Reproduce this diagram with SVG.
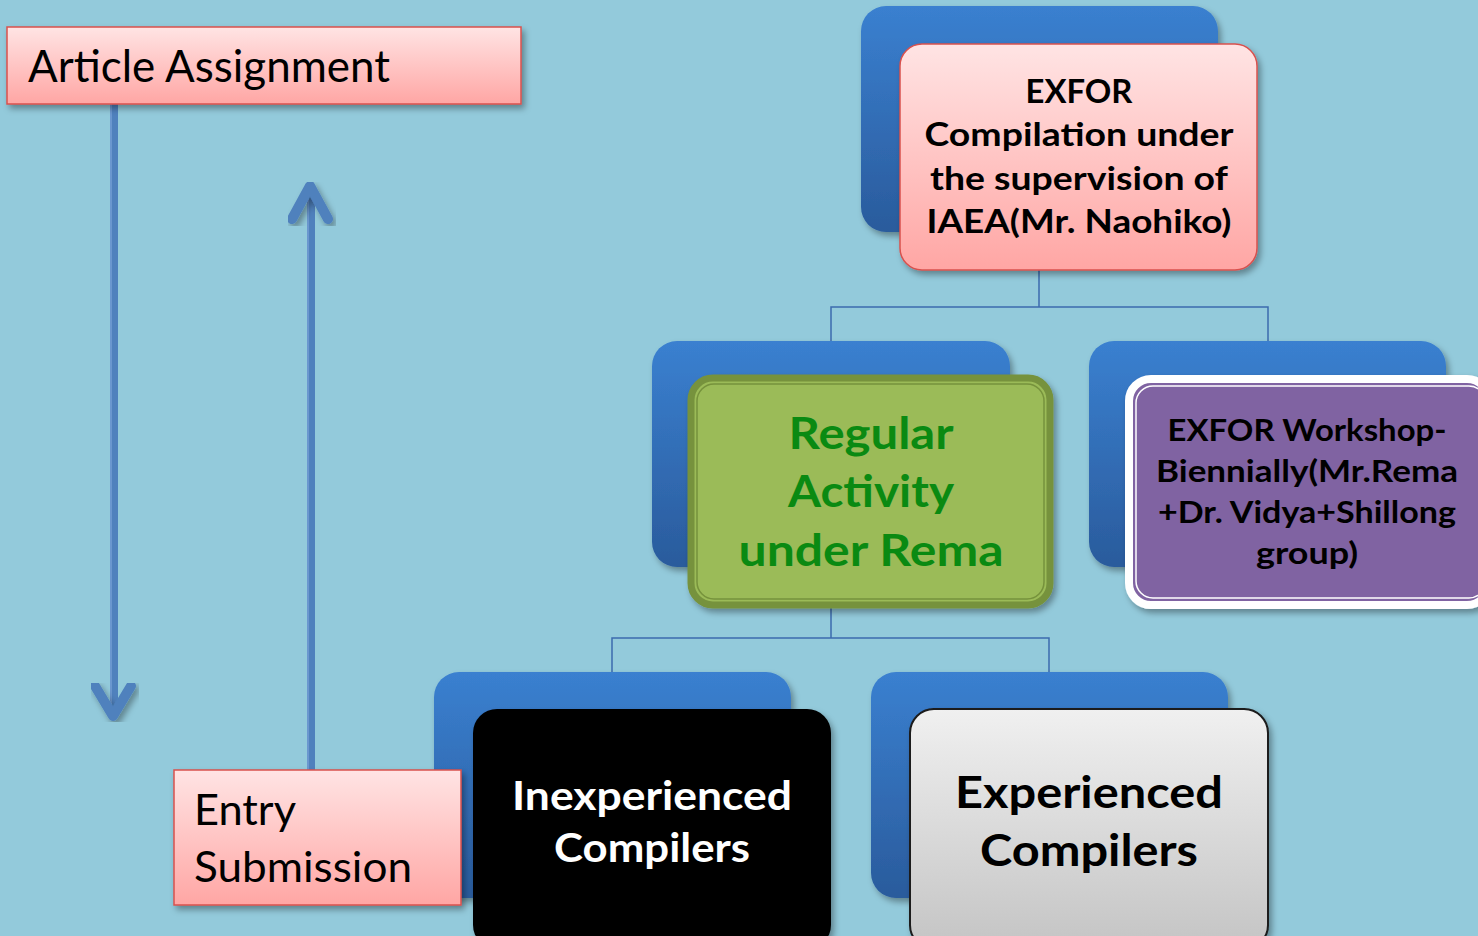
<svg xmlns="http://www.w3.org/2000/svg" width="1478" height="936" viewBox="0 0 1478 936">
<defs>
<linearGradient id="gBlue" x1="0" y1="0" x2="0" y2="1"><stop offset="0" stop-color="#3A80D0"/><stop offset="1" stop-color="#2A5B9C"/></linearGradient>
<linearGradient id="gPink" x1="0" y1="0" x2="0" y2="1"><stop offset="0" stop-color="#FFE4E4"/><stop offset="1" stop-color="#FFA6A4"/></linearGradient>
<linearGradient id="gGray" x1="0" y1="0" x2="0" y2="1"><stop offset="0" stop-color="#F0F0F0"/><stop offset="1" stop-color="#C4C4C4"/></linearGradient>
<filter id="sh" x="-10%" y="-10%" width="130%" height="130%"><feDropShadow dx="3" dy="4" stdDeviation="3" flood-color="#000" flood-opacity="0.35"/></filter>
<style>
.back{fill:url(#gBlue);filter:url(#sh)}
.pink{fill:url(#gPink);stroke:#D9514E;stroke-width:1.5;filter:url(#sh)}
.t{font-family:Lato,"Open Sans","Liberation Sans",sans-serif}
.b{font-weight:bold;text-anchor:middle}
.conn{fill:none;stroke:#3C6BAE;stroke-width:1.5}
.shaft{stroke:#4F81BD;stroke-width:8;fill:none}
.shaftHi{stroke:#7EA7DA;stroke-width:1.2;fill:none}
.head{stroke:#4F81BD;stroke-width:10;fill:none;stroke-linecap:round;stroke-linejoin:round;filter:url(#sh)}
</style>
</defs>
<rect width="1478" height="936" fill="#93CADB"/>

<g id="connectors">
<path class="conn" d="M1039 270 V307 M831 341 V307 H1268 V341"/>
<path class="conn" d="M831 608 V638 M612 672 V638 H1049 V672"/>
</g>

<g id="arrow-down">
<line class="shaft" x1="114" y1="104" x2="114" y2="712"/>
<line class="shaftHi" x1="111" y1="104" x2="111" y2="712"/>
<polyline class="head" points="95,686 113,716 131,686"/>
</g>
<g id="arrow-up">
<line class="shaft" x1="311" y1="770" x2="311" y2="190"/>
<line class="shaftHi" x1="308" y1="770" x2="308" y2="190"/>
<polyline class="head" points="292,219 310,186 328,219"/>
</g>

<g id="article-assignment">
<rect class="pink" x="7" y="27" width="514" height="77"/>
<text class="t" x="28" y="82" font-size="44" textLength="362" lengthAdjust="spacingAndGlyphs">Article Assignment</text>
</g>

<g id="exfor-compilation">
<rect class="back" x="861" y="6" width="357" height="226" rx="25"/>
<rect x="900" y="44" width="357" height="226" rx="22" fill="url(#gPink)" stroke="#D9514E" stroke-width="1.5" filter="url(#sh)"/>
<g class="t b" font-size="33" fill="#000">
<text x="1079" y="103" textLength="107" lengthAdjust="spacingAndGlyphs">EXFOR</text>
<text x="1079" y="146" textLength="309" lengthAdjust="spacingAndGlyphs">Compilation under</text>
<text x="1079" y="190" textLength="298" lengthAdjust="spacingAndGlyphs">the supervision of</text>
<text x="1079" y="233" textLength="305" lengthAdjust="spacingAndGlyphs">IAEA(Mr. Naohiko)</text>
</g>
</g>

<g id="regular-activity">
<rect class="back" x="652" y="341" width="358" height="226" rx="25"/>
<rect x="691" y="378" width="359" height="227" rx="22" fill="#9BBB59" stroke="#76923C" stroke-width="7" filter="url(#sh)"/>
<rect x="697" y="384" width="347" height="215" rx="17" fill="none" stroke="#76923C" stroke-width="1.5"/>
<g class="t b" font-size="44" fill="#0A8A12">
<text x="871" y="449" textLength="165" lengthAdjust="spacingAndGlyphs">Regular</text>
<text x="871" y="507" textLength="166" lengthAdjust="spacingAndGlyphs">Activity</text>
<text x="871" y="566" textLength="265" lengthAdjust="spacingAndGlyphs">under Rema</text>
</g>
</g>

<g id="exfor-workshop">
<rect class="back" x="1089" y="341" width="357" height="226" rx="25"/>
<rect x="1129" y="379" width="360" height="226" rx="22" fill="#8064A2" stroke="#FFFFFF" stroke-width="8" filter="url(#sh)"/>
<rect x="1136" y="386" width="350" height="212" rx="17" fill="none" stroke="#FFFFFF" stroke-width="1.5"/>
<g class="t b" font-size="31" fill="#000">
<text x="1307" y="441" textLength="279" lengthAdjust="spacingAndGlyphs">EXFOR Workshop-</text>
<text x="1307" y="482" textLength="302" lengthAdjust="spacingAndGlyphs">Biennially(Mr.Rema</text>
<text x="1307" y="523" textLength="298" lengthAdjust="spacingAndGlyphs">+Dr. Vidya+Shillong</text>
<text x="1307" y="564" textLength="102" lengthAdjust="spacingAndGlyphs">group)</text>
</g>
</g>

<g id="inexperienced">
<rect class="back" x="434" y="672" width="357" height="226" rx="25"/>
<rect x="473" y="709" width="358" height="240" rx="24" fill="#000" filter="url(#sh)"/>
<g class="t b" font-size="40" fill="#FFFFFF">
<text x="652" y="810" textLength="280" lengthAdjust="spacingAndGlyphs">Inexperienced</text>
<text x="652" y="862" textLength="196" lengthAdjust="spacingAndGlyphs">Compilers</text>
</g>
</g>

<g id="experienced">
<rect class="back" x="871" y="672" width="357" height="226" rx="25"/>
<rect x="910" y="709" width="358" height="240" rx="24" fill="url(#gGray)" stroke="#1A1A1A" stroke-width="2" filter="url(#sh)"/>
<g class="t b" font-size="44" fill="#000">
<text x="1089" y="808" textLength="268" lengthAdjust="spacingAndGlyphs">Experienced</text>
<text x="1089" y="866" textLength="218" lengthAdjust="spacingAndGlyphs">Compilers</text>
</g>
</g>

<g id="entry-submission">
<rect class="pink" x="174" y="770" width="287" height="135"/>
<text class="t" x="194" y="825" font-size="42" textLength="102" lengthAdjust="spacingAndGlyphs">Entry</text>
<text class="t" x="194" y="882" font-size="42" textLength="218" lengthAdjust="spacingAndGlyphs">Submission</text>
</g>
</svg>
